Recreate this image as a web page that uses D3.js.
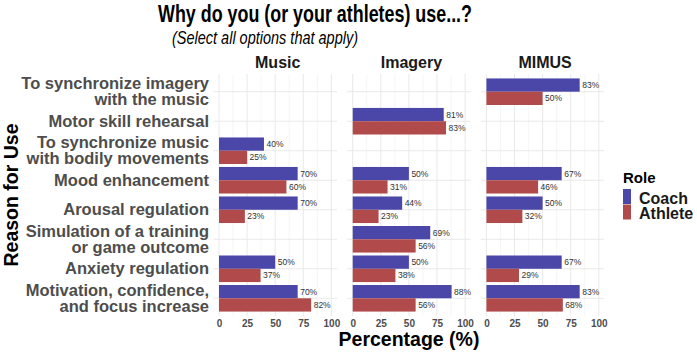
<!DOCTYPE html>
<html>
<head>
<meta charset="utf-8">
<script src="https://cdn.jsdelivr.net/npm/d3@7"></script>
<style>
  body { margin: 0; background: #fff; }
  text { font-family: "Liberation Sans", Arial, Helvetica, sans-serif; }
</style>
</head>
<body>
<div id="chart"></div>
<script>
// Categories, top to bottom
const reasons = [
    'To synchronize imagery\nwith the music',
    'Motor skill rehearsal',
    'To synchronize music\nwith bodily movements',
    'Mood enhancement',
    'Arousal regulation',
    'Simulation of a training\nor game outcome',
    'Anxiety regulation',
    'Motivation, confidence,\nand focus increase'
];
const panels = ['Music', 'Imagery', 'MIMUS'];
const roles = ['Coach', 'Athlete'];
const xTicks = [0, 25, 50, 75, 100];

// Percentages per panel, same order as reasons (null = not asked)
const coachMusic     = [null, null, 40, 70, 70, null, 50, 70];
const athleteMusic   = [null, null, 25, 60, 23, null, 37, 82];
const coachImagery   = [null, 81, null, 50, 44, 69, 50, 88];
const athleteImagery = [null, 83, null, 31, 23, 56, 38, 56];
const coachMimus     = [83, null, null, 67, 50, null, 67, 83];
const athleteMimus   = [50, null, null, 46, 32, null, 29, 68];

const seriesByPanel = {
    Music:   { Coach: coachMusic,   Athlete: athleteMusic },
    Imagery: { Coach: coachImagery, Athlete: athleteImagery },
    MIMUS:   { Coach: coachMimus,   Athlete: athleteMimus }
};

const colors = { Coach: '#4b47a9', Athlete: '#b04a4b' };

const width = 697;
const height = 353;

const svg = d3.select('#chart')
    .append('svg')
    .attr('width', width)
    .attr('height', height);

// Layout of the facet panels
const panelLeft = 213.4;
const panelWidth = 123.6;
const panelGap = 10.1;
const panelTop = 74;
const panelBottom = 316;

const xScale = d3.scaleLinear()
    .domain([-5, 105])
    .range([0, panelWidth]);

const xMinor = d3.range(0, 101, 12.5);

const yScale = d3.scalePoint()
    .domain(reasons)
    .range([panelTop, panelBottom])
    .padding(0.6);

const step = yScale.step();
const barH = step * 0.45;

// Titles
svg.append('text')
    .attr('x', 315)
    .attr('y', 21.5)
    .attr('text-anchor', 'middle')
    .attr('font-size', 23.5)
    .attr('font-weight', 'bold')
    .style('font-family', '"Liberation Sans Narrow", "Liberation Sans", Arial, sans-serif')
    .attr('textLength', 314)
    .attr('lengthAdjust', 'spacingAndGlyphs')
    .text('Why do you (or your athletes) use...?');

svg.append('text')
    .attr('x', 265)
    .attr('y', 43.5)
    .attr('text-anchor', 'middle')
    .attr('font-size', 18)
    .attr('font-style', 'italic')
    .style('font-family', '"Liberation Sans Narrow", "Liberation Sans", Arial, sans-serif')
    .attr('textLength', 186)
    .attr('lengthAdjust', 'spacingAndGlyphs')
    .text('(Select all options that apply)');

// Panels
panels.forEach((p, i) => {
    const g = svg.append('g')
        .attr('transform', 'translate(' + (panelLeft + i * (panelWidth + panelGap)) + ',0)');

    // minor + major vertical grid
    g.selectAll('.minor')
        .data(xMinor.filter(v => v % 25 !== 0))
        .enter()
        .append('line')
        .attr('x1', d => xScale(d))
        .attr('x2', d => xScale(d))
        .attr('y1', panelTop)
        .attr('y2', panelBottom)
        .attr('stroke', '#f0f0f0')
        .attr('stroke-width', 0.6);

    g.selectAll('.major')
        .data(xTicks)
        .enter()
        .append('line')
        .attr('x1', d => xScale(d))
        .attr('x2', d => xScale(d))
        .attr('y1', panelTop)
        .attr('y2', panelBottom)
        .attr('stroke', '#e6e6e6')
        .attr('stroke-width', 0.9);

    g.selectAll('.hgrid')
        .data(reasons)
        .enter()
        .append('line')
        .attr('x1', 0)
        .attr('x2', panelWidth)
        .attr('y1', d => yScale(d))
        .attr('y2', d => yScale(d))
        .attr('stroke', '#e6e6e6')
        .attr('stroke-width', 0.9);

    // strip label
    g.append('text')
        .attr('x', panelWidth / 2 + 2.5)
        .attr('y', 68)
        .attr('text-anchor', 'middle')
        .attr('font-size', 16)
        .attr('font-weight', 'bold')
        .attr('fill', '#1a1a1a')
        .text(p);

    // bars
    roles.forEach((r, k) => {
        const vals = seriesByPanel[p][r];
        const rows = reasons.map((c, j) => ({ c, v: vals[j] })).filter(d => d.v !== null);

        g.selectAll('.bar-' + r)
            .data(rows)
            .enter()
            .append('rect')
            .attr('x', xScale(0))
            .attr('y', d => yScale(d.c) - barH + k * barH)
            .attr('width', d => xScale(d.v) - xScale(0))
            .attr('height', barH)
            .attr('fill', colors[r]);

        g.selectAll('.lab-' + r)
            .data(rows)
            .enter()
            .append('text')
            .attr('x', d => xScale(d.v) + 2.5)
            .attr('y', d => yScale(d.c) - barH / 2 + k * barH + 3)
            .attr('font-size', 8.5)
            .attr('fill', '#333')
            .text(d => d.v + '%');
    });

    // x axis labels
    const xAxis = d3.axisBottom(xScale)
        .tickValues(xTicks)
        .tickSize(0)
        .tickPadding(0);

    const ax = g.append('g')
        .attr('transform', 'translate(0,' + 318 + ')')
        .call(xAxis);
    ax.select('.domain').remove();
    ax.selectAll('text')
        .attr('y', 9.3)
        .attr('dy', 0)
        .attr('font-size', 10)
        .attr('font-weight', 'bold')
        .attr('fill', '#4d4d4d')
        .style('font-family', '"Liberation Sans", Arial, sans-serif');
});

// y axis labels
const yLab = svg.append('g');
reasons.forEach(c => {
    const lines = c.split('\n');
    const cy = yScale(c);
    lines.forEach((ln, i) => {
        yLab.append('text')
            .attr('x', 209)
            .attr('y', cy + 5.5 + (i - (lines.length - 1) / 2) * 16.4)
            .attr('text-anchor', 'end')
            .attr('font-size', 16.5)
            .attr('font-weight', 'bold')
            .attr('fill', '#4d4d4d')
            .text(ln);
    });
});

// Axis titles
svg.append('text')
    .attr('x', 409)
    .attr('y', 346)
    .attr('text-anchor', 'middle')
    .attr('font-size', 19.5)
    .attr('font-weight', 'bold')
    .text('Percentage (%)');

svg.append('text')
    .attr('transform', 'translate(17.5,' + ((panelTop + panelBottom) / 2) + ') rotate(-90)')
    .attr('text-anchor', 'middle')
    .attr('font-size', 19.5)
    .attr('font-weight', 'bold')
    .text('Reason for Use');

// Legend
const legend = svg.append('g').attr('transform', 'translate(623,0)');
legend.append('text')
    .attr('x', 0)
    .attr('y', 183)
    .attr('font-size', 15)
    .attr('font-weight', 'bold')
    .text('Role');

roles.forEach((r, i) => {
    legend.append('rect')
        .attr('x', 0)
        .attr('y', 189 + i * 15.5)
        .attr('width', 8)
        .attr('height', 15)
        .attr('fill', colors[r]);
    legend.append('text')
        .attr('x', 16)
        .attr('y', 203.5 + i * 15.5)
        .attr('font-size', 16)
        .attr('font-weight', 'bold')
        .attr('fill', '#1a1a1a')
        .text(r);
});
</script>
</body>
</html>
